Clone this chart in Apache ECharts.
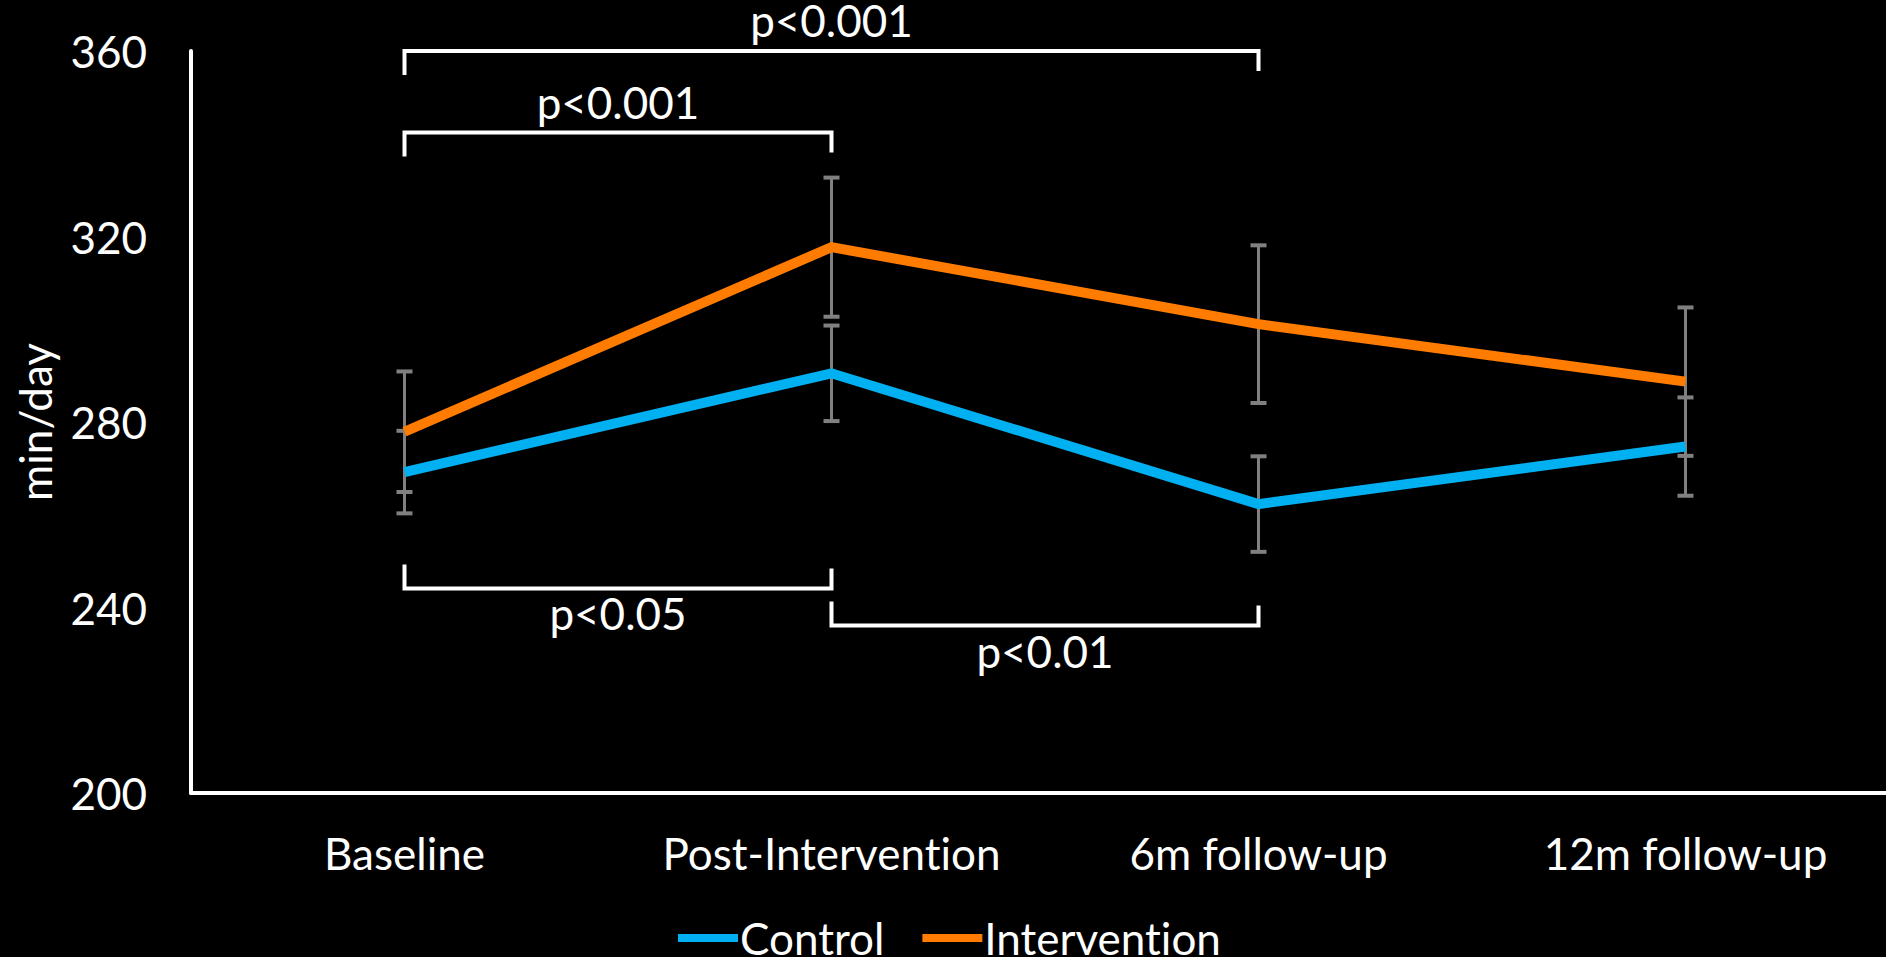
<!DOCTYPE html>
<html><head><meta charset="utf-8">
<script src="https://cdn.jsdelivr.net/npm/echarts/dist/echarts.min.js"></script>
<style>
html,body{margin:0;padding:0;background:#000;}
#chart{width:1886px;height:957px;}
#chart text{font-variant-ligatures:none;font-feature-settings:"liga" 0,"clig" 0;}
</style>
</head><body><div id="chart"></div>
<script>
const categories = ['Baseline', 'Post-Intervention', '6m follow-up', '12m follow-up'];
const controlMean = [269.2, 290.5, 262.3, 274.7];
const controlErr = [8.9, 10.3, 10.3, 10.6];
const interventionMean = [277.9, 317.7, 301.1, 288.7];
const interventionErr = [13.0, 15.0, 17.0, 16.0];
const yTicks = [200, 240, 280, 320, 360];
// significance brackets: from category, to category, level (min/day), label, direction (1 = legs down, label above)
const bracketFrom = [0, 0, 0, 1];
const bracketTo = [2, 1, 1, 2];
const bracketLevel = [360, 342.4, 244.1, 236.1];
const bracketText = ['p<0.001', 'p<0.001', 'p<0.05', 'p<0.01'];
const bracketDir = [1, 1, -1, -1];

const FONT = 'Lato';
const FS = 44;

function errData(mean, err) {
  return mean.map((m, i) => [i, m - err[i], m + err[i]]);
}
function errRender(params, api) {
  const x = api.value(0);
  const lo = api.coord([x, api.value(1)]);
  const hi = api.coord([x, api.value(2)]);
  const hw = 8;
  const c = '#808080';
  return { type: 'group', children: [
    { type: 'line', shape: { x1: lo[0], y1: lo[1], x2: hi[0], y2: hi[1] }, style: { stroke: c, lineWidth: 3 } },
    { type: 'line', shape: { x1: lo[0] - hw, y1: lo[1], x2: lo[0] + hw, y2: lo[1] }, style: { stroke: c, lineWidth: 4 } },
    { type: 'line', shape: { x1: hi[0] - hw, y1: hi[1], x2: hi[0] + hw, y2: hi[1] }, style: { stroke: c, lineWidth: 4 } }
  ]};
}
function bracketRender(params, api) {
  const i = params.dataIndex;
  const a = api.coord([api.value(0), api.value(2)]);
  const b = api.coord([api.value(1), api.value(2)]);
  const d = bracketDir[i];
  const legL = 24 * d, legR = 20 * d;
  return { type: 'group', children: [
    { type: 'polyline', shape: { points: [[a[0], a[1] + legL], [a[0], a[1]], [b[0], b[1]], [b[0], b[1] + legR]] },
      style: { stroke: '#ffffff', lineWidth: 4, fill: 'none', lineJoin: 'miter' } },
    { type: 'text', x: (a[0] + b[0]) / 2, y: a[1] - 28 * d - 3,
      style: { text: bracketText[i], fill: '#ffffff', fontSize: FS, fontFamily: FONT, align: 'center', verticalAlign: 'middle' } }
  ]};
}

const chart = echarts.init(document.getElementById('chart'), null, { renderer: 'svg' });
chart.setOption({
  backgroundColor: '#000000',
  animation: false,
  grid: { left: 191, right: -13, top: 51, bottom: 164, containLabel: false, outerBoundsMode: 'none' },
  legend: {
    data: ['Control', 'Intervention'],
    left: 673, top: 911,
    icon: 'rect', itemWidth: 60, itemHeight: 8, itemGap: 38,
    textStyle: { color: '#ffffff', fontSize: FS, fontFamily: FONT, padding: [0, 0, 0, -3] }
  },
  xAxis: {
    type: 'category', data: categories, boundaryGap: true,
    axisLine: { lineStyle: { color: '#ffffff', width: 4 } },
    axisTick: { show: false },
    axisLabel: { color: '#ffffff', fontSize: FS, fontFamily: FONT, margin: 38, interval: 0 },
    splitLine: { show: false }
  },
  yAxis: {
    type: 'value', min: yTicks[0], max: yTicks[yTicks.length - 1], interval: yTicks[1] - yTicks[0],
    name: 'min/day', nameLocation: 'middle', nameGap: 134,
    nameTextStyle: { color: '#ffffff', fontSize: FS, fontFamily: FONT },
    axisLine: { show: true, lineStyle: { color: '#ffffff', width: 4 } },
    axisTick: { show: false },
    axisLabel: { color: '#ffffff', fontSize: FS, fontFamily: FONT, margin: 44, padding: [0, 0, 5, 0] },
    splitLine: { show: false }
  },
  series: [
    { type: 'custom', z: 1, clip: false, renderItem: errRender, data: errData(controlMean, controlErr), encode: { x: 0, y: [1, 2] }, silent: true },
    { type: 'custom', z: 1, clip: false, renderItem: errRender, data: errData(interventionMean, interventionErr), encode: { x: 0, y: [1, 2] }, silent: true },
    { name: 'Control', type: 'line', z: 3, data: controlMean, showSymbol: false, symbol: 'none', color: '#00B0F0',
      lineStyle: { color: '#00B0F0', width: 10, cap: 'butt', join: 'miter' } },
    { name: 'Intervention', type: 'line', z: 3, data: interventionMean, showSymbol: false, symbol: 'none', color: '#FF7C00',
      lineStyle: { color: '#FF7C00', width: 10, cap: 'butt', join: 'miter' } },
    { type: 'custom', z: 4, clip: false, renderItem: bracketRender, silent: true,
      data: bracketFrom.map((f, i) => [f, bracketTo[i], bracketLevel[i]]), encode: { x: [0, 1], y: 2 } }
  ]
});
</script></body></html>
